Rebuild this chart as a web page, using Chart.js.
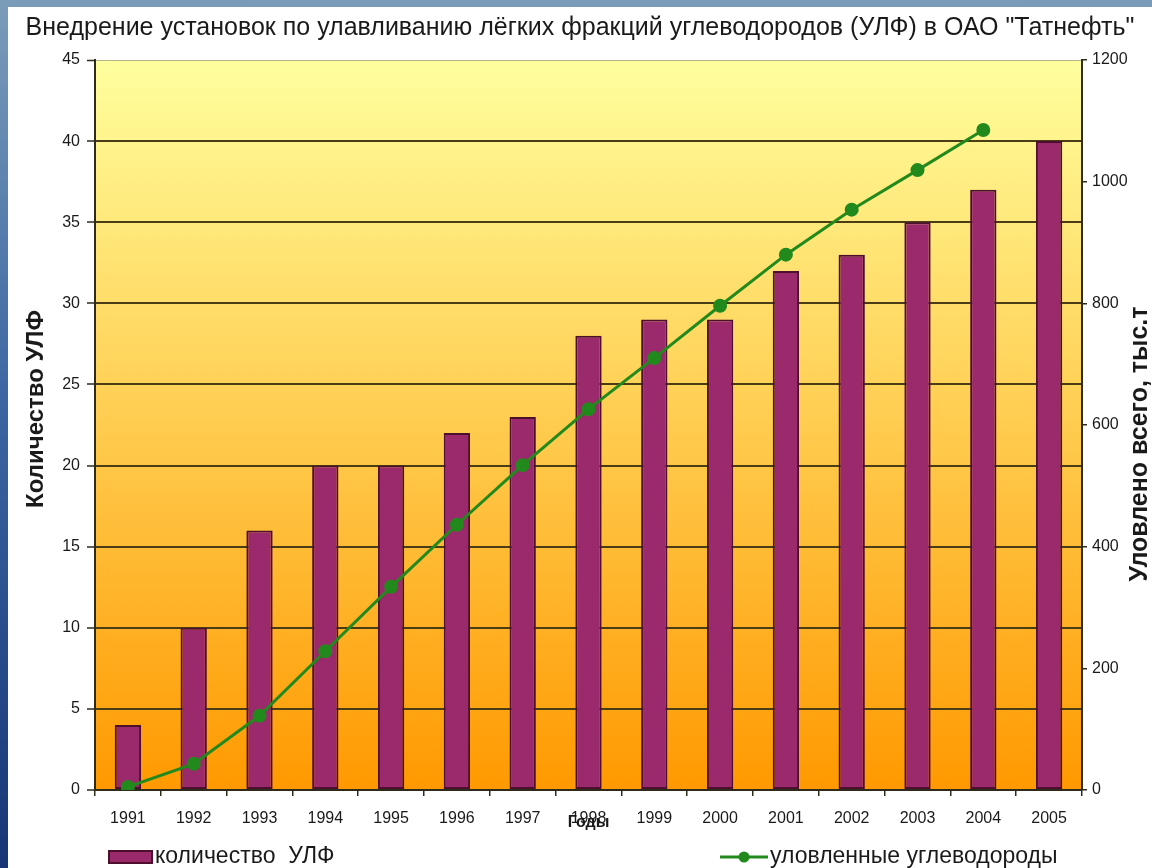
<!DOCTYPE html>
<html lang="ru">
<head>
<meta charset="utf-8">
<title>УЛФ — Татнефть</title>
<script src="https://cdn.jsdelivr.net/npm/chart.js@4.4.1/dist/chart.umd.min.js"></script>
<style>
  html, body { margin: 0; padding: 0; }
  body {
    width: 1152px; height: 868px; overflow: hidden; position: relative;
    background: linear-gradient(#7b9cb9, #3c67a3 45%, #173574);
  }
  #panel { position: absolute; left: 8px; top: 7px; right: 0; bottom: 0; background: #fff; }
  #wrap { position: absolute; left: 0; top: 0; width: 1152px; height: 868px; }
</style>
</head>
<body>
<div id="panel"></div>
<div id="wrap"><canvas id="chart" width="1152" height="868"></canvas></div>
<script>
// Data
const years = ['1991', '1992', '1993', '1994', '1995', '1996', '1997', '1998',
               '1999', '2000', '2001', '2002', '2003', '2004', '2005'];
const ulfCount = [4, 10, 16, 20, 20, 22, 23, 28, 29, 29, 32, 33, 35, 37, 40];
const captured = [5, 43, 122, 228, 334, 436, 534, 626, 710, 796, 880, 954, 1019, 1085, null];

const chartTitle = 'Внедрение установок по улавливанию лёгких фракций углеводородов (УЛФ) в ОАО "Татнефть"';
const leftTitle = 'Количество УЛФ';
const rightTitle = 'Уловлено всего, тыс.т';
const xTitle = 'Годы';
const barLabel = 'количество  УЛФ';
const lineLabel = 'уловленные углеводороды';

const leftMin = 0, leftMax = 45, leftStep = 5;
const rightMin = 0, rightMax = 1200, rightStep = 200;

const FONT = 'Arial, "Liberation Sans", sans-serif';
const barFill = '#9b2a6c';
const barEdge = '#4e0f2e';
const lineGreen = '#22891c';
const axisDark = '#2e2a1c';

Chart.defaults.font.family = FONT;
Chart.defaults.color = '#1a1a1a';

// gradient plot area, axis titles and legend
const decor = {
    id: 'decor',
    beforeDraw(chart) {
        const { ctx, chartArea: a } = chart;
        const g = ctx.createLinearGradient(0, a.top, 0, a.bottom);
        g.addColorStop(0, '#ffff9e');
        g.addColorStop(1, '#ff9900');
        ctx.save();
        ctx.fillStyle = g;
        ctx.fillRect(a.left, a.top, a.right - a.left, a.bottom - a.top);
        ctx.restore();
    },
    afterDraw(chart) {
        const { ctx } = chart;
        const bar = chart.data.datasets[0];
        const line = chart.data.datasets[1];
        ctx.save();
        ctx.fillStyle = '#1a1a1a';
        ctx.textBaseline = 'middle';

        // axis titles
        ctx.textAlign = 'center';
        ctx.font = 'bold 24px ' + FONT;
        ctx.save();
        ctx.translate(36, 409);
        ctx.rotate(-Math.PI / 2);
        ctx.fillText(leftTitle, 0, 0);
        ctx.restore();
        ctx.font = 'bold 25px ' + FONT;
        ctx.save();
        ctx.translate(1140, 444);
        ctx.rotate(-Math.PI / 2);
        ctx.fillText(rightTitle, 0, 0);
        ctx.restore();

        // legend
        ctx.font = '23px ' + FONT;
        ctx.textAlign = 'left';
        const ly = 857;
        ctx.fillStyle = bar.backgroundColor;
        ctx.fillRect(109, ly - 6, 43, 12);
        ctx.strokeStyle = bar.borderColor;
        ctx.lineWidth = 2;
        ctx.strokeRect(109, ly - 6, 43, 12);
        ctx.fillStyle = '#1a1a1a';
        ctx.fillText(bar.label, 155, ly);

        ctx.strokeStyle = line.borderColor;
        ctx.lineWidth = 3;
        ctx.beginPath();
        ctx.moveTo(720, ly);
        ctx.lineTo(768, ly);
        ctx.stroke();
        ctx.fillStyle = line.pointBackgroundColor;
        ctx.beginPath();
        ctx.arc(744, ly, 5.5, 0, Math.PI * 2);
        ctx.fill();
        ctx.fillStyle = '#1a1a1a';
        ctx.fillText(line.label, 770, ly);
        ctx.restore();
    }
};

new Chart(document.getElementById('chart'), {
    data: {
        labels: years,
        datasets: [
            {
                type: 'bar',
                label: barLabel,
                data: ulfCount,
                backgroundColor: barFill,
                borderColor: barEdge,
                borderWidth: 2,
                borderSkipped: false,
                categoryPercentage: 1,
                barPercentage: 0.4,
                yAxisID: 'y',
                order: 2
            },
            {
                type: 'line',
                label: lineLabel,
                data: captured,
                borderColor: lineGreen,
                backgroundColor: lineGreen,
                pointBackgroundColor: lineGreen,
                pointBorderColor: lineGreen,
                borderWidth: 3,
                pointRadius: 5.5,
                tension: 0,
                spanGaps: false,
                yAxisID: 'y1',
                order: 1
            }
        ]
    },
    options: {
        responsive: false,
        animation: false,
        layout: { padding: { left: 8, top: 8, right: 0, bottom: 36 } },
        plugins: {
            legend: { display: false },
            tooltip: { enabled: false },
            title: {
                display: true,
                text: chartTitle,
                color: '#1a1a1a',
                font: { size: 25, weight: 'normal' },
                padding: { top: 5, bottom: 17 }
            }
        },
        scales: {
            x: {
                grid: { drawOnChartArea: false, drawTicks: true, tickLength: 6, color: axisDark, lineWidth: 1.5 },
                border: { color: axisDark, width: 2 },
                ticks: { font: { size: 16 }, padding: 13, maxRotation: 0, color: '#1a1a1a' },
                title: { display: true, text: xTitle, font: { size: 16, weight: 'bold' }, padding: 0, color: '#1a1a1a' },
                afterFit(scale) { scale.height = 42; }
            },
            y: {
                position: 'left',
                min: leftMin,
                max: leftMax,
                ticks: { stepSize: leftStep, font: { size: 16 }, padding: 7, color: '#1a1a1a' },
                grid: {
                    color: ctx => ctx.tick && ctx.tick.value === leftMax ? '#b8b48a' : '#4a3c14',
                    lineWidth: ctx => ctx.tick && ctx.tick.value === leftMax ? 1 : 2,
                    tickLength: 8,
                    tickColor: axisDark,
                    tickWidth: 1.5
                },
                border: { color: axisDark, width: 2 },
                afterFit(scale) { scale.width = 87; }
            },
            y1: {
                position: 'right',
                min: rightMin,
                max: rightMax,
                ticks: {
                    stepSize: rightStep,
                    font: { size: 16 },
                    padding: 5,
                    color: '#1a1a1a',
                    callback: v => String(v)
                },
                grid: { drawOnChartArea: false, tickLength: 5, color: axisDark, lineWidth: 1.5 },
                border: { color: axisDark, width: 2 },
                afterFit(scale) { scale.width = 70; }
            }
        }
    },
    plugins: [decor]
});
</script>
</body>
</html>
